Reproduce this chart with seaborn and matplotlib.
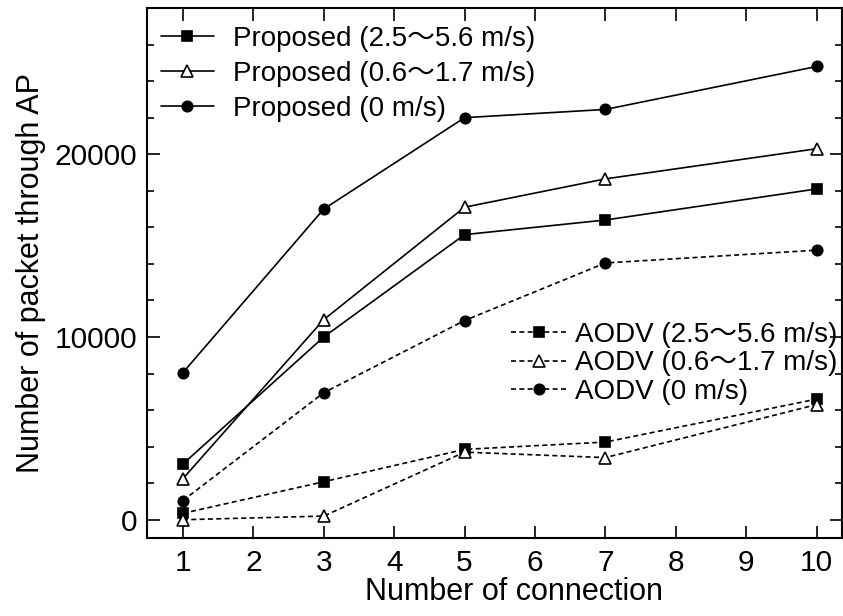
import matplotlib
matplotlib.use("Agg")
import matplotlib.pyplot as plt
import seaborn as sns
import pandas as pd
from matplotlib.lines import Line2D

connections = [1, 3, 5, 7, 10]
prop_fast = [3050, 10000, 15600, 16400, 18100]
prop_slow = [2250, 10950, 17100, 18650, 20300]
prop_zero = [8050, 17000, 22000, 22450, 24800]
aodv_fast = [350, 2080, 3850, 4250, 6600]
aodv_slow = [0, 200, 3700, 3400, 6300]
aodv_zero = [1050, 6950, 10900, 14050, 14750]

labels = [
    "Proposed (2.5～5.6 m/s)", "Proposed (0.6～1.7 m/s)", "Proposed (0 m/s)",
    "AODV (2.5～5.6 m/s)", "AODV (0.6～1.7 m/s)", "AODV (0 m/s)",
]
series = [prop_fast, prop_slow, prop_zero, aodv_fast, aodv_slow, aodv_zero]

sns.set_style("ticks")
plt.rcParams["font.family"] = ["Liberation Sans", "Noto Sans CJK JP", "DejaVu Sans"]
plt.rcParams["text.color"] = "black"
plt.rcParams["axes.labelcolor"] = "black"
plt.rcParams["xtick.color"] = "black"
plt.rcParams["ytick.color"] = "black"

fig = plt.figure(figsize=(8.43, 6.16), dpi=100)
ax = fig.add_axes([0.1744, 0.1266, 0.8244, 0.8604])

markers = ["s", "^", "o"] * 2
faces = ["black", "white", "black"] * 2
dash = (0, (3, 2))
styles = ["-"] * 3 + [dash] * 3
handles = []
for lab, vals, m, fc, ls in zip(labels, series, markers, faces, styles):
    df = pd.DataFrame({"x": connections, "y": vals})
    ms = 8.5 if m == "^" else 7.5
    sns.lineplot(data=df, x="x", y="y", ax=ax, color="black", lw=1.2,
                 linestyle=ls, marker=m, markersize=ms,
                 markerfacecolor=fc, markeredgecolor="black", markeredgewidth=1.2,
                 zorder=3)
    handles.append(Line2D([], [], color="black", lw=1.2, linestyle=ls, marker=m,
                          markersize=ms, markerfacecolor=fc,
                          markeredgecolor="black", markeredgewidth=1.2, label=lab))

ax.set_xlim(0.49, 10.36)
ax.set_ylim(-1000, 28000)
ax.set_xticks(range(1, 11))
ax.set_yticks([0, 10000, 20000])
ax.set_yticks(range(0, 28001, 2000), minor=True)
ax.tick_params(which="both", direction="in", top=True, right=True, labelsize=21.5,
               width=1.2, colors="black")
ax.tick_params(which="major", length=9, pad=7)
ax.tick_params(axis="x", which="major", pad=8)
ax.tick_params(which="minor", length=5)
ax.tick_params(axis="x", which="minor", bottom=False, top=False)
for s in ax.spines.values():
    s.set_linewidth(1.5)
    s.set_color("black")
ax.set_xlabel("Number of connection", fontsize=22, color="black")
ax.set_ylabel("Number of packet through AP", fontsize=22, labelpad=6, color="black")
ax.xaxis.set_label_coords(0.528, -0.074, transform=ax.transAxes)

leg1 = ax.legend(handles=handles[:3], loc="upper left", frameon=False, fontsize=20,
                 handlelength=1.9, handletextpad=0.7, labelspacing=0.32,
                 borderaxespad=0.0, borderpad=0.0, bbox_to_anchor=(0.02, 0.966))
ax.add_artist(leg1)
ax.legend(handles=handles[3:], loc="upper left", frameon=False, fontsize=20,
          handlelength=2.0, handletextpad=0.3, labelspacing=0.09,
          borderaxespad=0.0, borderpad=0.0, bbox_to_anchor=(0.524, 0.408))

fig.savefig("out.png", dpi=100)
